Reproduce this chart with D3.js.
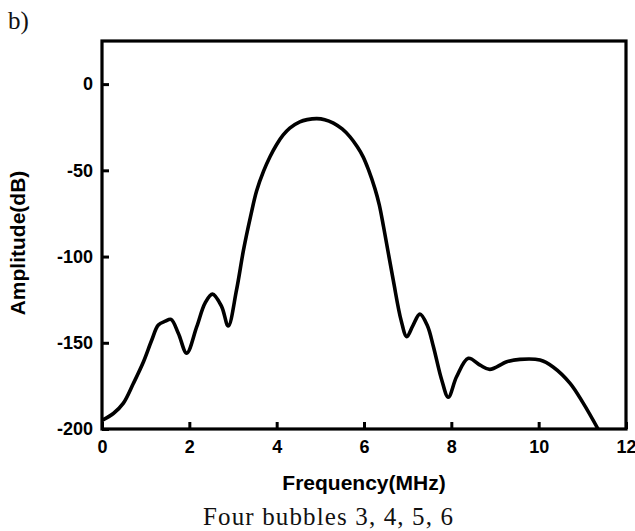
<!DOCTYPE html>
<html>
<head>
<meta charset="utf-8">
<script src="https://cdn.jsdelivr.net/npm/d3@7"></script>
<style>
  html, body { margin: 0; padding: 0; background: #fff; }
  svg { display: block; }
  .axis text { font-family: "Liberation Sans", Arial, sans-serif; font-weight: bold; font-size: 18px; fill: #000; }
  .axis line { stroke: #000; stroke-width: 3; }
  .axis-title { font-family: "Liberation Sans", Arial, sans-serif; font-weight: bold; font-size: 21px; fill: #000; }
  .serif { font-family: "Liberation Serif", "Times New Roman", serif; font-size: 25px; fill: #111; }
</style>
</head>
<body>
<svg id="chart" width="635" height="531"></svg>
<script>
// Spectrum (frequency in MHz, amplitude in dB)
const freq = [0, 0.26, 0.49, 0.72, 0.95, 1.14, 1.29, 1.45, 1.58, 1.75, 1.94, 2.17, 2.36, 2.53,
  2.74, 2.89, 3.08, 3.24, 3.4, 3.54, 3.7, 3.85, 4.0, 4.15, 4.3, 4.53, 4.7, 4.92, 5.1, 5.3,
  5.5, 5.68, 5.85, 5.98, 6.1, 6.25, 6.35, 6.45, 6.67, 6.85, 6.98, 7.12, 7.28, 7.45, 7.59,
  7.78, 7.93, 8.12, 8.39, 8.66, 8.88, 9.27, 9.57, 10.03, 10.33, 10.72, 11.02, 11.36];
const amplitude = [-195, -191, -185, -173.5, -161, -148.4, -139.7, -137.5, -136.4, -144.6, -156,
  -140.7, -127, -121.8, -129, -140.3, -119.5, -96.3, -77, -62, -50.5, -42, -35, -29.5, -25.5,
  -21.9, -20.6, -20, -20.6, -22.6, -26, -30.6, -36.5, -42.2, -49.5, -60.6, -70, -83, -113.7,
  -137, -146.5, -140, -133.4, -140, -152.3, -171.6, -181.6, -169.7, -159, -163, -165.4, -161,
  -159.6, -160, -164, -173.5, -185, -200];

const xTicks = [0, 2, 4, 6, 8, 10, 12];
const yTicks = [0, -50, -100, -150, -200];
const xTitle = "Frequency(MHz)";
const yTitle = "Amplitude(dB)";
const panelLabel = "b)";
const caption = "Four bubbles 3, 4, 5, 6";

const margin = { top: 41, right: 9, bottom: 102, left: 102 };
const W = 635, H = 531;
const innerW = W - margin.left - margin.right;
const innerH = H - margin.top - margin.bottom;

const svg = d3.select("#chart");
const g = svg.append("g").attr("transform", `translate(${margin.left},${margin.top})`);

const x = d3.scaleLinear().domain([0, 12]).range([0, innerW]);
const y = d3.scaleLinear().domain([-200, 25]).range([innerH, 0]);

// plain hyphen for negatives, like the original
const fmt = (d) => String(d);

// inward ticks, no domain path (frame drawn separately)
const xAxis = g.append("g")
  .attr("class", "axis")
  .attr("transform", `translate(0,${innerH})`)
  .call(d3.axisBottom(x).tickValues(xTicks).tickFormat(fmt).tickSize(-7).tickPadding(11));
xAxis.select(".domain").remove();

const yAxis = g.append("g")
  .attr("class", "axis")
  .call(d3.axisLeft(y).tickValues(yTicks).tickFormat(fmt).tickSize(-7).tickPadding(9));
yAxis.select(".domain").remove();

g.append("clipPath").attr("id", "plot-clip")
  .append("rect").attr("width", innerW).attr("height", innerH);

const line = d3.line()
  .x((d, i) => x(freq[i]))
  .y((d) => y(d))
  .curve(d3.curveCatmullRom.alpha(0.5));

g.append("path")
  .datum(amplitude)
  .attr("clip-path", "url(#plot-clip)")
  .attr("fill", "none")
  .attr("stroke", "#000")
  .attr("stroke-width", 3.6)
  .attr("stroke-linejoin", "round")
  .attr("d", line);

g.append("rect")
  .attr("width", innerW)
  .attr("height", innerH)
  .attr("fill", "none")
  .attr("stroke", "#000")
  .attr("stroke-width", 3.2);

svg.append("text")
  .attr("class", "axis-title")
  .attr("x", margin.left + innerW / 2)
  .attr("y", 490)
  .attr("text-anchor", "middle")
  .text(xTitle);

svg.append("text")
  .attr("class", "axis-title")
  .attr("transform", `translate(25,${margin.top + innerH / 2 + 8}) rotate(-90)`)
  .attr("text-anchor", "middle")
  .text(yTitle);

svg.append("text")
  .attr("class", "serif")
  .attr("x", 8)
  .attr("y", 29)
  .text(panelLabel);

svg.append("text")
  .attr("class", "serif")
  .attr("x", 203)
  .attr("y", 525)
  .attr("textLength", 250)
  .attr("lengthAdjust", "spacing")
  .text(caption);
</script>
</body>
</html>
